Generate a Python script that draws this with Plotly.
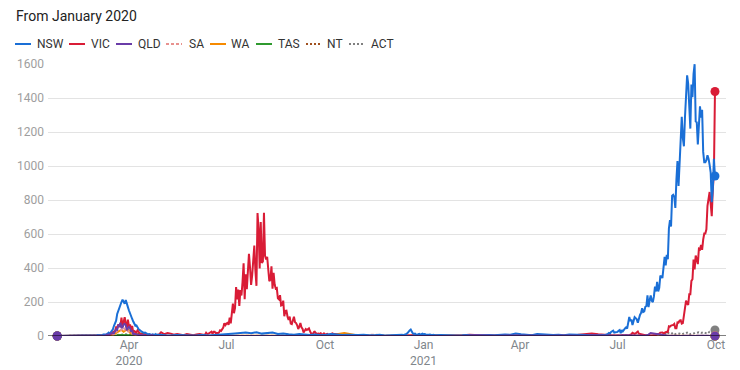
import pandas as pd
import plotly.graph_objects as go

# ---------------- DATA (daily new cases) ----------------
# Each run: (start date, step in days, values)
NSW_RUNS = [
    ("2020-01-25", 7, [0, 0, 0, 0, 0]),
    ("2020-03-01", 1, [2, 4, 6, 3, 6, 4, 2, 9, 10, 7, 9, 14, 20, 13, 22, 37, 40, 60, 78, 90,
                       130, 150, 160, 190, 200, 214, 198, 190, 212, 196, 170]),
    ("2020-04-01", 1, [150, 130, 115, 100, 85, 75, 60, 62, 48, 40, 35, 28, 25, 22, 18, 20, 14, 12,
                       10, 12, 9, 7, 10, 8, 6, 11, 5, 7, 6, 8]),
    ("2020-05-05", 5, [5, 3, 6, 4, 2, 3, 4, 6, 3, 5, 8, 7, 10, 15, 18, 20, 16, 22, 14, 18, 20, 12,
                       15, 10, 8, 12, 10, 6, 9, 5, 7, 12, 9, 6, 8, 5, 6, 8, 4, 5, 7, 3, 5, 8, 6]),
    ("2020-12-12", 1, [7, 5, 6, 8, 12, 17, 28, 33, 38, 22, 15, 12, 14, 9, 7, 10, 12, 8, 11, 14]),
    ("2021-01-01", 1, [10, 12, 9, 8, 6, 7, 9, 6, 5, 7, 4, 5]),
    ("2021-01-17", 5, [6, 4, 5, 3, 4, 6, 3, 5, 4, 6, 5, 8, 9, 7, 14, 10, 8, 5, 12, 9, 7, 6, 8, 5,
                       9, 7, 4, 6, 5, 4]),
    ("2021-06-12", 1, [4, 3, 2, 3, 5, 6, 4, 5, 7, 8, 12, 18, 15, 24, 30, 32, 20, 22, 25]),
    ("2021-07-01", 1, [24, 31, 35, 16, 35, 27, 38, 44, 50, 44, 77, 112, 89, 97, 65, 97, 111, 105,
                       98, 78, 110, 124, 136, 163, 141, 145, 172, 177, 239, 170, 210]),
    ("2021-08-01", 1, [239, 207, 199, 233, 291, 262, 319, 262, 283, 356, 344, 345, 390, 466, 415,
                       478, 452, 633, 681, 644, 825, 830, 818, 753, 919, 1029, 882, 1035, 1218,
                       1290, 1164]),
    ("2021-09-01", 1, [1116, 1288, 1431, 1533, 1485, 1281, 1220, 1480, 1405, 1542, 1599, 1262,
                       1257, 1127, 1259, 1351, 1284, 1331, 1083, 1022, 1022, 1035, 1063, 1043,
                       1007, 961, 787, 863, 1043, 941]),
]

VIC_RUNS = [
    ("2020-01-25", 7, [0, 0, 0, 0, 0]),
    ("2020-03-01", 1, [1, 0, 1, 1, 1, 3, 1, 1, 2, 3, 6, 3, 9, 7, 13, 14, 23, 27, 29, 51, 49, 67,
                       56, 56, 108, 54, 94, 111, 74, 50, 96]),
    ("2020-04-01", 1, [57, 68, 30, 60, 20, 29, 25, 21, 34, 20, 16, 11, 12, 8, 12, 5, 9, 5, 4, 6,
                       4, 3, 5, 3, 7, 4, 2, 8, 6, 15]),
    ("2020-05-01", 3, [22, 10, 17, 14, 7, 12, 8, 5, 12, 10, 4, 9, 12, 7]),
    ("2020-06-10", 1, [9, 8, 19, 12, 13, 18, 21, 25, 13, 25, 25, 16, 19, 17, 20, 33, 30, 41, 49,
                       75, 64]),
    ("2020-07-01", 1, [73, 77, 66, 108, 74, 127, 191, 134, 165, 288, 216, 273, 177, 270, 238, 317,
                       428, 217, 363, 275, 374, 484, 403, 300, 357, 459, 532, 384, 295, 723, 627]),
    ("2020-08-01", 1, [397, 671, 429, 439, 725, 471, 450, 466, 394, 322, 331, 410, 278, 372, 303,
                       279, 282, 222, 216, 240, 179, 182, 208, 116, 148, 149, 113, 94, 114, 73, 70]),
    ("2020-09-01", 1, [90, 113, 81, 76, 63, 41, 55, 76, 51, 43, 21, 35, 41, 35, 42, 45, 28, 14,
                       14, 11, 28, 15, 12, 14, 15, 11, 16, 5, 10, 15]),
    ("2020-10-01", 1, [8, 9, 12, 8, 7, 11, 15, 15, 11, 12]),
    ("2020-10-16", 6, [3, 2, 1, 0, 3, 2, 1, 0, 2, 1, 3, 4, 2, 3, 5, 2, 1, 3, 2, 4, 8, 5, 3, 2, 1,
                       4, 2, 3, 2, 4, 3, 5, 2, 3, 2, 4, 2, 8, 12, 15, 10, 6, 4]),
    ("2021-07-01", 1, [3, 2, 3, 4, 3, 5, 2, 4, 3, 2, 3, 5, 8, 10, 19, 16, 13, 16, 22, 26, 14, 12,
                       11, 10, 6, 5, 2, 4, 1, 0, 2]),
    ("2021-08-01", 1, [2, 3, 4, 6, 6, 6, 10, 12, 13, 20, 21, 21, 15, 21, 22, 25, 24, 57, 55, 61,
                       61, 65, 71, 45, 45, 80, 79, 90, 92, 73, 76]),
    ("2021-09-01", 1, [120, 176, 208, 190, 183, 246, 246, 324, 334, 450, 392, 473, 445, 423, 514,
                       510, 535, 507, 567, 603, 603, 628, 766, 800, 847, 779, 705, 867, 950, 1438]),
]

QLD_RUNS = [
    ("2020-01-25", 7, [0, 0, 0, 0, 0]),
    ("2020-03-01", 1, [1, 0, 2, 3, 2, 2, 1, 3, 3, 3, 7, 7, 11, 8, 16, 15, 17, 16, 28, 40, 37, 62,
                       60, 78, 50, 50, 68, 71, 65, 34, 46]),
    ("2020-04-01", 1, [54, 46, 26, 33, 10, 13, 11, 7, 8, 4, 4, 4, 5, 6, 5, 0, 3, 2, 2, 2, 2, 1, 5,
                       0, 0, 1, 3, 0, 1, 0]),
    ("2020-05-05", 10, [3, 1, 0, 2, 0, 1, 0, 2, 1, 0, 3, 1, 0, 2, 1, 0, 2, 1, 0, 3, 1, 2, 1, 0, 2,
                        4, 3, 1, 2, 5, 2, 1, 3, 2, 4, 3, 2, 3, 1, 2, 5, 3, 2, 4]),
    ("2021-07-20", 2, [1, 2, 3, 2, 4, 8, 18, 16, 10, 12, 8, 4, 2, 3, 1, 2, 1, 3, 1, 2, 1, 0, 1, 0,
                       2, 1, 1, 0, 2, 0, 1, 1, 0, 2, 0, 1, 0]),
]

SA_RUNS = [
    ("2020-01-25", 7, [0, 0, 0, 0, 0]),
    ("2020-03-01", 2, [1, 1, 0, 2, 3, 2, 6, 10, 8, 13, 32, 34, 37, 50, 28, 29, 22, 13, 9, 4, 2, 1,
                       0, 1, 0, 0]),
    ("2020-05-04", 14, [0, 0, 0, 1, 0, 1, 0, 2, 0, 1, 0, 2, 1, 3, 8, 2, 1, 0, 1, 0, 2, 1, 3, 1, 2,
                        1, 0, 1, 2, 1, 0, 4, 2, 1, 1, 2, 1]),
    ("2021-09-30", 1, [1]),
]

WA_RUNS = [
    ("2020-01-25", 7, [0, 0, 0, 0, 0]),
    ("2020-03-01", 2, [0, 1, 0, 1, 2, 1, 3, 4, 6, 14, 26, 30, 35, 25, 34, 38, 20, 13, 7, 14, 5, 3,
                       1, 2, 0, 1]),
    ("2020-05-04", 14, [0, 2, 1, 0, 1, 3, 1, 2, 0, 1, 2, 3, 18, 2, 1, 0, 2, 1, 3, 2, 5, 1, 2, 1, 3,
                        2, 4, 1, 2, 0, 1, 2, 1, 0, 1, 0, 1]),
    ("2021-09-30", 1, [0]),
]

TAS_RUNS = [
    ("2020-01-25", 7, [0, 0, 0, 0, 0]),
    ("2020-03-02", 3, [0, 1, 0, 1, 2, 3, 3, 6, 5, 7, 6, 5, 10, 12, 14, 9, 8, 6, 3, 1, 1]),
    ("2020-05-29", 28, [0, 0, 1, 0, 0, 0, 0, 1, 0, 0, 0, 0, 1, 0, 0, 0, 0]),
    ("2021-09-30", 1, [0]),
]

NT_RUNS = [
    ("2020-01-25", 7, [0, 0, 0, 0, 0]),
    ("2020-03-01", 4, [0, 0, 1, 1, 2, 3, 4, 5, 3, 2, 1, 0, 0, 0, 1, 0]),
    ("2020-05-28", 28, [0, 0, 1, 0, 0, 0, 1, 0, 0, 0, 0, 1, 0, 0, 0, 1, 0]),
    ("2021-09-30", 1, [0]),
]

ACT_RUNS = [
    ("2020-01-25", 7, [0, 0, 0, 0, 0]),
    ("2020-03-01", 4, [0, 0, 0, 1, 2, 6, 8, 10, 7, 4, 2, 1, 0, 0, 0, 0]),
    ("2020-05-28", 28, [0, 0, 0, 0, 1, 0, 0, 0, 0, 0, 0, 1, 0, 0, 0]),
    ("2021-07-22", 7, [0, 0, 0]),
    ("2021-08-12", 2, [1, 6, 22, 16, 12, 20, 11, 13, 14, 10, 13, 15, 22, 11, 15, 18, 19, 22, 18,
                       22, 17, 14, 26, 30, 28]),
    ("2021-09-30", 1, [35]),
]

STATES = ["NSW", "VIC", "QLD", "SA", "WA", "TAS", "NT", "ACT"]
RUNS = [NSW_RUNS, VIC_RUNS, QLD_RUNS, SA_RUNS, WA_RUNS, TAS_RUNS, NT_RUNS, ACT_RUNS]

TICK_DATES = ["2020-04-01", "2020-07-01", "2020-10-01", "2021-01-01",
              "2021-04-01", "2021-07-01", "2021-10-01"]
TICK_TEXT = ["Apr<br>2020", "Jul", "Oct", "Jan<br>2021", "Apr", "Jul", "Oct"]
Y_TICKS = [0, 200, 400, 600, 800, 1000, 1200, 1400, 1600]

TITLE = "From January 2020"

# ---------------- STYLE ----------------
COLORS = {"NSW": "#1a6fd6", "VIC": "#d91c36", "QLD": "#6a3ca8", "SA": "#e8928f",
          "WA": "#f68a00", "TAS": "#2f9a2f", "NT": "#a0501e", "ACT": "#808080"}
DASH = {"NSW": "solid", "VIC": "solid", "QLD": "solid", "SA": "3px,2px",
        "WA": "solid", "TAS": "solid", "NT": "2px,2px", "ACT": "2px,2px"}
DRAW_ORDER = ["ACT", "NT", "TAS", "WA", "SA", "VIC", "NSW", "QLD"]

# pixel geometry of plot area
L, R, T, B = 48, 726, 64, 336
W, H = 740, 370


def px_x(px):
    return (px - L) / (R - L)


def px_y(py):
    return (B - py) / (B - T)


def expand(runs):
    xs, ys = [], []
    for start, step, vals in runs:
        d0 = pd.Timestamp(start)
        for i, v in enumerate(vals):
            xs.append(d0 + pd.Timedelta(days=step * i))
            ys.append(v)
    return xs, ys


series = {s: expand(r) for s, r in zip(STATES, RUNS)}

fig = go.Figure()
for s in DRAW_ORDER:
    xs, ys = series[s]
    fig.add_trace(go.Scatter(
        x=xs, y=ys, mode="lines", name=s, showlegend=False, cliponaxis=False,
        line=dict(color=COLORS[s], width=2, dash=DASH[s]),
        hoverinfo="skip"))
for s in DRAW_ORDER:
    xs, ys = series[s]
    fig.add_trace(go.Scatter(
        x=[xs[0], xs[-1]], y=[ys[0], ys[-1]], mode="markers", showlegend=False,
        cliponaxis=False, marker=dict(color=COLORS[s], size=9), hoverinfo="skip"))

shapes = [dict(type="line", xref="paper", yref="y", x0=0, x1=1, y0=0, y1=0,
               line=dict(color="#000000", width=1), layer="above")]
annotations = [dict(text=TITLE, xref="paper", yref="paper", x=px_x(14), y=px_y(16),
                    xanchor="left", yanchor="middle", showarrow=False,
                    font=dict(size=14, color="#222222"))]

# custom legend
LEG_LINE_X = [15, 69, 116, 166, 210, 256, 306, 349]
LEG_TEXT_X = [35, 89, 136, 187, 229, 276, 325, 369]
LEG_Y = 44
for s, lx, tx in zip(STATES, LEG_LINE_X, LEG_TEXT_X):
    shapes.append(dict(type="line", xref="paper", yref="paper",
                       x0=px_x(lx), x1=px_x(lx + 16), y0=px_y(LEG_Y), y1=px_y(LEG_Y),
                       line=dict(color=COLORS[s], width=2, dash=DASH[s])))
    annotations.append(dict(text=s, xref="paper", yref="paper", x=px_x(tx), y=px_y(LEG_Y),
                            xanchor="left", yanchor="middle", showarrow=False,
                            font=dict(size=12, color="#333333")))

fig.update_layout(
    width=W, height=H,
    margin=dict(l=L, r=W - R, t=T, b=H - B, pad=0, autoexpand=False),
    paper_bgcolor="white", plot_bgcolor="white",
    font=dict(family="Roboto, Arial, sans-serif", size=12, color="#333333"),
    showlegend=False,
    shapes=shapes, annotations=annotations,
    xaxis=dict(type="date", range=["2020-01-16 10:00", "2021-10-10 07:00"],
               tickmode="array", tickvals=TICK_DATES, ticktext=TICK_TEXT,
               showgrid=False, zeroline=False, showline=False, ticks="",
               automargin=False,
               tickfont=dict(size=12, color="#80868b")),
    yaxis=dict(range=[0, 1600], tickmode="array", tickvals=Y_TICKS,
               showgrid=True, gridcolor="#e3e3e3", gridwidth=1,
               zeroline=False, showline=False, ticks="", automargin=False,
               ticklabelstandoff=3,
               tickfont=dict(size=12, color="#9e9e9e")),
    hovermode=False,
)

fig.write_html("out.html", config={"displayModeBar": False},
               post_script="document.body.style.margin='0';")
